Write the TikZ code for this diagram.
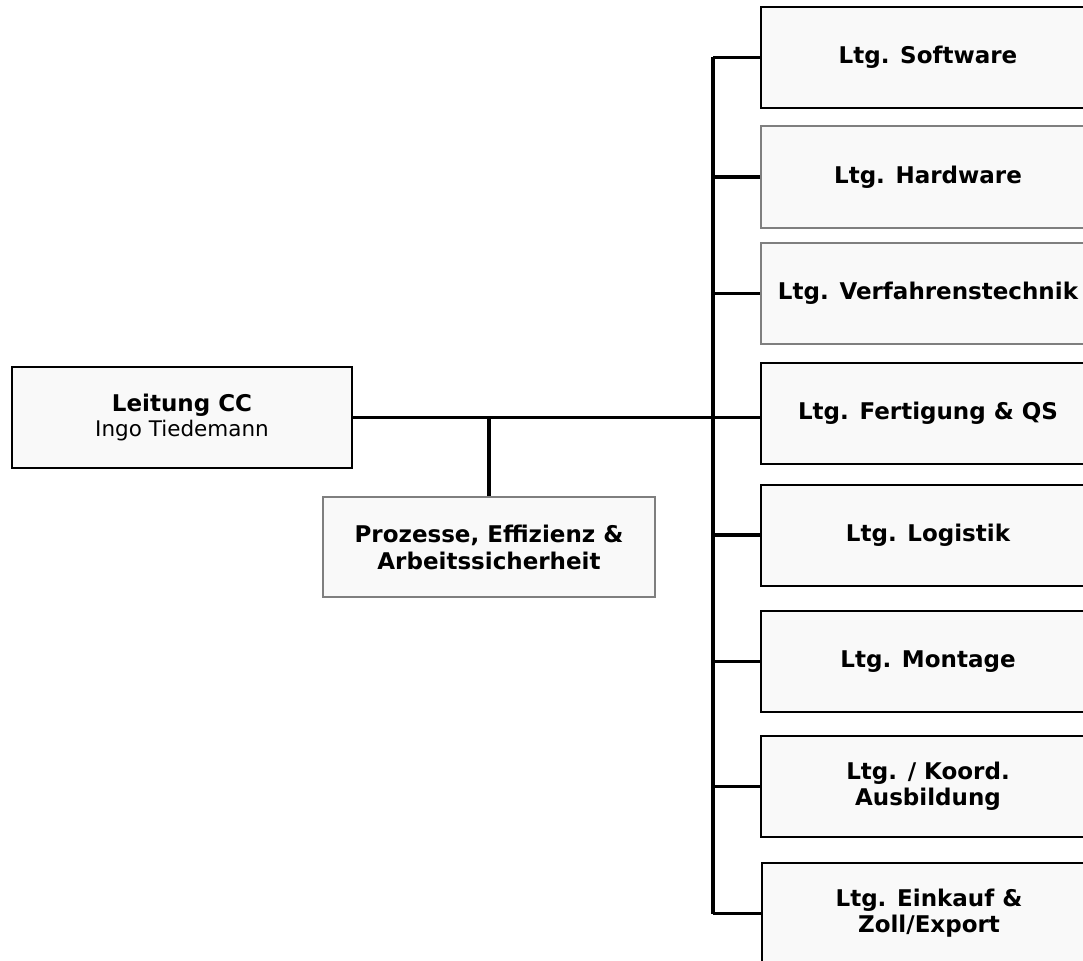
\documentclass[tikz,border=0pt]{standalone}
\usepackage{fontspec}
\setmainfont{DejaVu Sans}
\definecolor{boxfill}{HTML}{F9F9F9}
\definecolor{boxgray}{HTML}{7F7F7F}
\begin{document}
\begin{tikzpicture}[x=1pt,y=-1pt,
  orgbox/.style={draw=black, line width=2pt, fill=boxfill, inner sep=0pt, align=center,
    font=\fontsize{23}{28}\selectfont\bfseries},
  graybox/.style={orgbox, draw=boxgray},
  rbox/.style={minimum width=334pt, minimum height=101pt},
  conn/.style={draw=black, line width=3.2pt}]
\useasboundingbox (0,0) rectangle (1083,960);
\clip (0,0) rectangle (1083,960);
\fill[white] (0,0) rectangle (1083,960);

\node[orgbox, minimum width=340pt, minimum height=101pt] (lead) at (182,417.5)
  {Leitung CC\\[-3pt]{\fontsize{21.5}{25}\selectfont\mdseries Ingo Tiedemann}};
\node[graybox, minimum width=332pt, minimum height=100pt] (pro) at (489,547)
  {\raisebox{-3pt}{Prozesse, Effizienz \&}\\[2pt]Arbeitssicherheit};

\node[orgbox, rbox] (sw) at (928,57.5) {\raisebox{-3pt}{Ltg. Software}};
\node[graybox, rbox] (hw) at (928,177) {\raisebox{-3pt}{Ltg. Hardware}};
\node[graybox, rbox] (vt) at (928,293.5) {\raisebox{-3pt}{Ltg. Verfahrenstechnik}};
\node[orgbox, rbox] (fq) at (928,413.5) {\raisebox{-3pt}{Ltg. Fertigung \& QS}};
\node[orgbox, rbox] (lo) at (928,535) {\raisebox{-3pt}{Ltg. Logistik}};
\node[orgbox, rbox] (mo) at (928,661.5) {\raisebox{-3pt}{Ltg. Montage}};
\node[orgbox, rbox] (ko) at (928,786.5) {\raisebox{-3pt}{Ltg. / Koord.}\\[-2pt]\raisebox{-3pt}{Ausbildung}};
\node[orgbox, rbox] (ek) at (929,913.5) {\raisebox{-3pt}{Ltg. Einkauf \&}\\[-2pt]\raisebox{-3pt}{Zoll/Export}};

\coordinate (bustop) at (713,57.5);
\coordinate (busbot) at (713,913.5);
\draw[conn] (bustop) -- (busbot);
\draw[conn] (lead.east) -- (lead.east -| fq.west);
\draw[conn] (pro.north) -- (pro.north |- lead.east);
\foreach \b in {sw,hw,vt,lo,mo,ko,ek}{
  \draw[conn] (\b.west) -- (\b.west -| bustop);
}
\end{tikzpicture}
\end{document}
